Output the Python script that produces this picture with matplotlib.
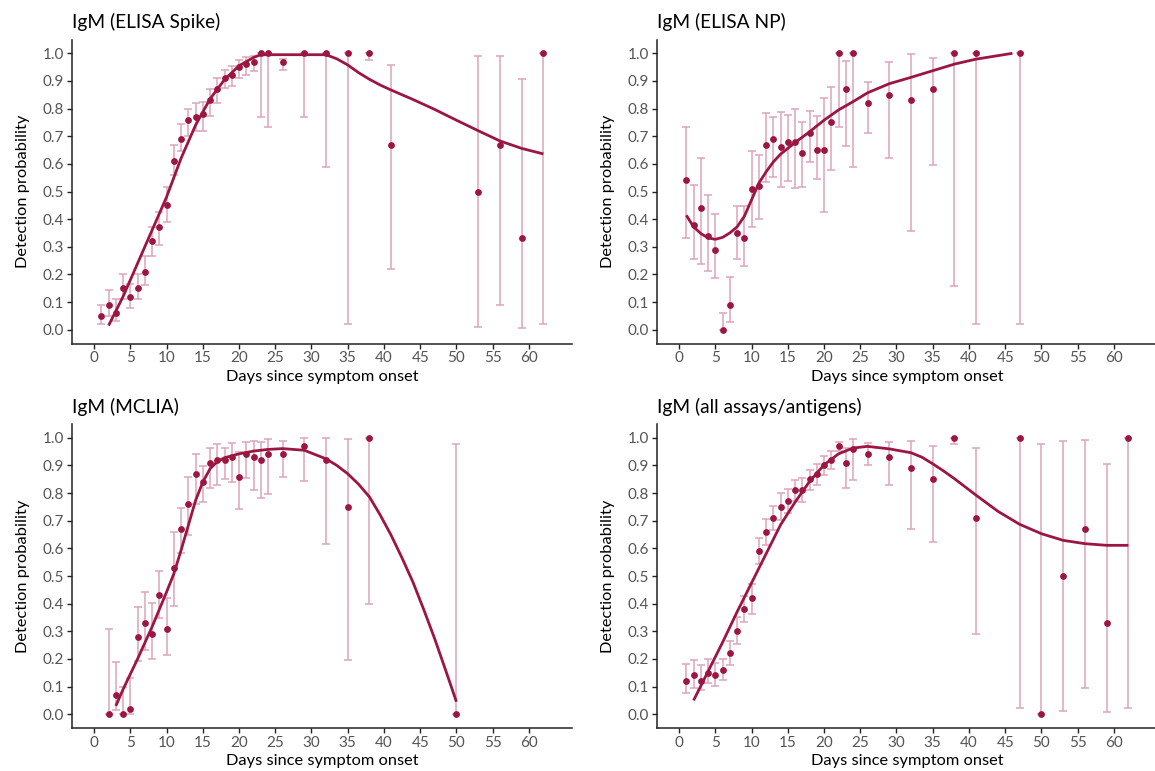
import matplotlib
matplotlib.use("Agg")
import matplotlib.pyplot as plt

plt.rcParams["font.family"] = ["Lato", "DejaVu Sans"]

POINT_COLOR = "#9C1642"
BAR_COLOR = "#DDA5B7"

# IgM (ELISA Spike)
spike_days = [1, 2, 3, 4, 5, 6, 7, 8, 9, 10, 11, 12, 13, 14, 15, 16, 17, 18, 19, 20, 21, 22,
              23, 24, 26, 29, 32, 35, 38, 41, 53, 56, 59, 62]
spike_prob = [0.05, 0.09, 0.06, 0.15, 0.12, 0.15, 0.21, 0.32, 0.37, 0.45, 0.61, 0.69, 0.76, 0.77,
              0.78, 0.83, 0.87, 0.91, 0.92, 0.95, 0.96, 0.97, 1.0, 1.0, 0.97, 1.0, 1.0, 1.0, 1.0,
              0.67, 0.50, 0.67, 0.33, 1.0]
spike_low = [0.02, 0.05, 0.03, 0.11, 0.08, 0.11, 0.16, 0.265, 0.305, 0.39, 0.56, 0.645, 0.70, 0.72,
             0.72, 0.775, 0.82, 0.875, 0.88, 0.91, 0.92, 0.935, 0.77, 0.735, 0.94, 0.77, 0.59, 0.02,
             0.975, 0.22, 0.01, 0.09, 0.007, 0.02]
spike_high = [0.09, 0.145, 0.11, 0.20, 0.165, 0.20, 0.265, 0.37, 0.425, 0.515, 0.67, 0.745, 0.80,
              0.82, 0.825, 0.87, 0.91, 0.94, 0.955, 0.975, 0.985, 0.99, 1.0, 1.0, 0.98, 1.0, 1.0,
              1.0, 1.0, 0.957, 0.99, 0.99, 0.907, 1.0]
spike_fit_days = [2, 4, 6, 8, 10, 12, 14, 16, 18, 20, 22, 23, 26, 29, 32, 33.5, 35, 36.5, 38,
                  39.5, 41, 44, 47, 50, 53, 56, 59, 62]
spike_fit = [0.015, 0.12, 0.24, 0.36, 0.48, 0.62, 0.74, 0.835, 0.905, 0.955, 0.985, 0.995, 0.995,
             0.995, 0.995, 0.98, 0.958, 0.93, 0.906, 0.885, 0.867, 0.833, 0.797, 0.758, 0.72,
             0.683, 0.656, 0.636]

# IgM (ELISA NP)
np_days = [1, 2, 3, 4, 5, 6, 7, 8, 9, 10, 11, 12, 13, 14, 15, 16, 17, 18, 19, 20, 21, 22, 23, 24,
           26, 29, 32, 35, 38, 41, 47]
np_prob = [0.54, 0.38, 0.44, 0.34, 0.29, 0.0, 0.09, 0.35, 0.33, 0.51, 0.52, 0.67, 0.69, 0.66, 0.68,
           0.68, 0.64, 0.71, 0.65, 0.65, 0.75, 1.0, 0.87, 1.0, 0.82, 0.85, 0.83, 0.87, 1.0, 1.0, 1.0]
np_low = [0.332, 0.254, 0.237, 0.211, 0.187, 0.0, 0.028, 0.256, 0.229, 0.37, 0.402, 0.533, 0.552,
          0.517, 0.539, 0.514, 0.517, 0.607, 0.545, 0.426, 0.577, 0.734, 0.664, 0.589, 0.711, 0.622,
          0.357, 0.595, 0.157, 0.022, 0.022]
np_high = [0.734, 0.522, 0.621, 0.487, 0.417, 0.062, 0.191, 0.449, 0.449, 0.647, 0.633, 0.784,
           0.769, 0.786, 0.777, 0.80, 0.75, 0.792, 0.772, 0.837, 0.879, 1.0, 0.973, 1.0, 0.896,
           0.97, 0.998, 0.984, 1.0, 1.0, 1.0]
np_fit_days = [1, 2, 3, 4, 5, 6, 7, 8, 9, 10, 11, 12, 13, 14, 15, 16, 18, 20, 22, 24, 26, 29, 32,
               35, 38, 41, 46]
np_fit = [0.414, 0.372, 0.348, 0.332, 0.327, 0.334, 0.35, 0.372, 0.41, 0.47, 0.53, 0.571, 0.607,
          0.635, 0.656, 0.677, 0.716, 0.758, 0.795, 0.825, 0.857, 0.89, 0.913, 0.937, 0.961, 0.979,
          1.0]

# IgM (MCLIA)
mclia_days = [2, 3, 4, 5, 6, 7, 8, 9, 10, 11, 12, 13, 14, 15, 16, 17, 18, 19, 20, 21, 22, 23, 24,
              26, 29, 32, 35, 38, 50]
mclia_prob = [0.0, 0.07, 0.0, 0.02, 0.28, 0.33, 0.29, 0.43, 0.31, 0.53, 0.67, 0.76, 0.87, 0.84,
              0.91, 0.92, 0.92, 0.93, 0.86, 0.94, 0.93, 0.92, 0.94, 0.94, 0.97, 0.92, 0.75, 1.0, 0.0]
mclia_low = [0.0, 0.014, 0.0, 0.0, 0.193, 0.231, 0.198, 0.349, 0.213, 0.392, 0.583, 0.647, 0.761,
             0.767, 0.819, 0.828, 0.852, 0.84, 0.743, 0.855, 0.812, 0.783, 0.798, 0.86, 0.845,
             0.617, 0.195, 0.398, 0.0]
mclia_high = [0.31, 0.19, 0.10, 0.13, 0.388, 0.442, 0.404, 0.519, 0.42, 0.658, 0.746, 0.86, 0.943,
              0.898, 0.963, 0.976, 0.963, 0.982, 0.948, 0.984, 0.987, 0.984, 0.994, 0.987, 1.0,
              0.999, 0.994, 1.0, 0.976]
mclia_fit_days = [3, 4, 6, 8, 10, 11, 12, 13, 14, 15, 16, 17, 18, 20, 22, 24, 26, 29, 32, 33.5,
                  35, 36.5, 38, 39.5, 41, 42.5, 44, 45.5, 47, 48.5, 50]
mclia_fit = [0.03, 0.09, 0.2, 0.316, 0.442, 0.508, 0.593, 0.683, 0.773, 0.84, 0.888, 0.914, 0.928,
             0.942, 0.952, 0.958, 0.961, 0.955, 0.924, 0.9, 0.87, 0.832, 0.786, 0.72, 0.647, 0.565,
             0.478, 0.378, 0.273, 0.16, 0.045]

# IgM (all assays/antigens)
all_days = [1, 2, 3, 4, 5, 6, 7, 8, 9, 10, 11, 12, 13, 14, 15, 16, 17, 18, 19, 20, 21, 22, 23,
            24, 26, 29, 32, 35, 38, 41, 47, 50, 53, 56, 59, 62]
all_prob = [0.12, 0.14, 0.12, 0.15, 0.14, 0.16, 0.22, 0.30, 0.38, 0.42, 0.59, 0.66, 0.71, 0.75,
            0.77, 0.81, 0.81, 0.85, 0.87, 0.90, 0.92, 0.97, 0.91, 0.96, 0.94, 0.93, 0.89, 0.85,
            1.0, 0.71, 1.0, 0.0, 0.50, 0.67, 0.33, 1.0]
all_low = [0.077, 0.096, 0.087, 0.114, 0.102, 0.123, 0.177, 0.255, 0.334, 0.364, 0.542, 0.613,
           0.665, 0.704, 0.729, 0.771, 0.767, 0.812, 0.828, 0.864, 0.888, 0.954, 0.818, 0.849,
           0.902, 0.828, 0.669, 0.623, 0.976, 0.29, 0.024, 0.0, 0.012, 0.094, 0.008, 0.024]
all_high = [0.18, 0.195, 0.177, 0.198, 0.187, 0.201, 0.265, 0.351, 0.428, 0.47, 0.637, 0.705,
            0.753, 0.801, 0.813, 0.849, 0.855, 0.884, 0.906, 0.936, 0.954, 0.984, 0.963, 0.996,
            0.982, 0.984, 0.988, 0.97, 1.0, 0.964, 1.0, 0.976, 0.988, 0.993, 0.906, 1.0]
all_fit_days = [2, 4, 6, 8, 10, 12, 14, 16, 18, 20, 22, 24, 26, 29, 32, 33.5, 35, 36.5, 38, 41,
                44, 47, 50, 53, 56, 59, 62]
all_fit = [0.05, 0.155, 0.26, 0.37, 0.475, 0.58, 0.685, 0.767, 0.842, 0.902, 0.942, 0.963, 0.969,
           0.96, 0.946, 0.93, 0.906, 0.88, 0.852, 0.792, 0.734, 0.687, 0.653, 0.629, 0.617, 0.611,
           0.611]

x_ticks = list(range(0, 61, 5))
y_ticks = [i / 10 for i in range(11)]


def draw_panel(ax, title, days, prob, low, high, fit_days, fit):
    err = [[p - l for p, l in zip(prob, low)], [h - p for p, h in zip(prob, high)]]
    ax.errorbar(days, prob, yerr=err, fmt="none", ecolor=BAR_COLOR, elinewidth=1.1,
                capsize=3, capthick=1.1, zorder=1)
    ax.plot(fit_days, fit, color=POINT_COLOR, linewidth=2.0, zorder=2,
            solid_capstyle="butt", solid_joinstyle="round")
    ax.scatter(days, prob, s=24, color=POINT_COLOR, zorder=3, linewidths=0)

    ax.set_xlim(-3.05, 65.95)
    ax.set_ylim(-0.05, 1.05)
    ax.set_xticks(x_ticks)
    ax.set_yticks(y_ticks)
    ax.set_yticklabels([f"{v:.1f}" for v in y_ticks])
    ax.set_xlabel("Days since symptom onset", fontsize=11.8, labelpad=3.5)
    ax.set_ylabel("Detection probability", fontsize=11.8, labelpad=9)
    ax.set_title(title, loc="left", fontsize=13.8, pad=8)

    for side in ["top", "right"]:
        ax.spines[side].set_visible(False)
    for side in ["left", "bottom"]:
        ax.spines[side].set_linewidth(1.1)
        ax.spines[side].set_color("#222222")
    ax.tick_params(axis="both", labelsize=11, colors="#222222", labelcolor="#555555",
                   length=3.5, width=1.0, pad=2)


def main():
    fig = plt.figure(figsize=(11.55, 7.71), dpi=100)
    w = 500 / 1155
    h = 304 / 771
    ax1 = fig.add_axes([72 / 1155, (771 - 343.5) / 771, w, h])
    ax2 = fig.add_axes([657 / 1155, (771 - 343.5) / 771, w, h])
    ax3 = fig.add_axes([72 / 1155, (771 - 728) / 771, w, h])
    ax4 = fig.add_axes([657 / 1155, (771 - 728) / 771, w, h])

    draw_panel(ax1, "IgM (ELISA Spike)", spike_days, spike_prob, spike_low, spike_high,
               spike_fit_days, spike_fit)
    draw_panel(ax2, "IgM (ELISA NP)", np_days, np_prob, np_low, np_high, np_fit_days, np_fit)
    draw_panel(ax3, "IgM (MCLIA)", mclia_days, mclia_prob, mclia_low, mclia_high,
               mclia_fit_days, mclia_fit)
    draw_panel(ax4, "IgM (all assays/antigens)", all_days, all_prob, all_low, all_high,
               all_fit_days, all_fit)

    fig.savefig("out.png", dpi=100)


if __name__ == "__main__":
    main()
